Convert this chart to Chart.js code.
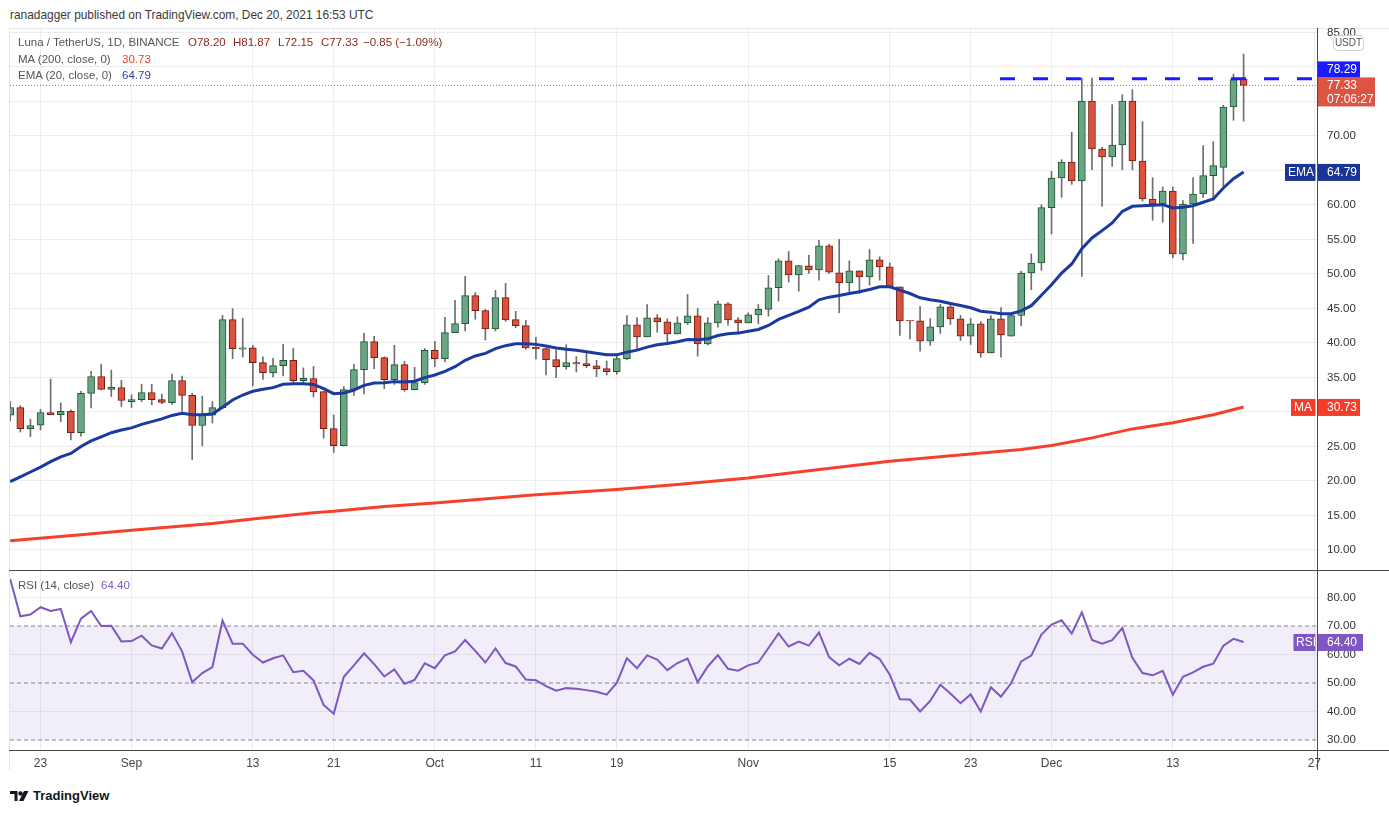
<!DOCTYPE html>
<html><head><meta charset="utf-8">
<script src="https://cdn.jsdelivr.net/npm/chart.js@4.4.0/dist/chart.umd.min.js"></script>
<style>
body{margin:0;width:1389px;height:813px;background:#fff;position:relative;overflow:hidden;font-family:"Liberation Sans",Arial,sans-serif;}
.abs{position:absolute;white-space:pre;line-height:14px;}
.box{position:absolute;}
</style></head><body>
<div class="abs" style="left:10px;top:8px;font-size:11.9px;color:#3a3a3a">ranadagger published on TradingView.com, Dec 20, 2021 16:53 UTC</div>
<div class="box" style="left:9px;top:28px;width:1380px;height:1px;background:#e3e5ec"></div>
<div class="box" style="left:9px;top:28px;width:1px;height:742px;background:#e3e5ec"></div>
<div style="position:absolute;left:0;top:28px;width:1389px;height:542px"><canvas id="price"></canvas></div>
<div style="position:absolute;left:0;top:571px;width:1389px;height:200px"><canvas id="rsi"></canvas></div>
<div class="box" style="left:9px;top:570px;width:1380px;height:1px;background:#4a4a4a"></div>
<div class="box" style="left:9px;top:750px;width:1380px;height:1px;background:#4a4a4a"></div>
<div class="box" style="left:1317px;top:28px;width:1px;height:742px;background:#4a4a4a"></div>

<div class="abs" style="left:18px;top:35px;font-size:11.5px;color:#555">Luna / TetherUS, 1D, BINANCE</div>
<div class="abs" id="hO" style="left:188px;top:35px;font-size:11.5px;color:#8a2a1e"></div>
<div class="abs" id="hH" style="left:233px;top:35px;font-size:11.5px;color:#8a2a1e"></div>
<div class="abs" id="hL" style="left:278px;top:35px;font-size:11.5px;color:#8a2a1e"></div>
<div class="abs" id="hC" style="left:321px;top:35px;font-size:11.5px;color:#8a2a1e"></div>
<div class="abs" id="hChg" style="left:363px;top:35px;font-size:11.5px;color:#8a2a1e"></div>
<div class="abs" style="left:18px;top:52px;font-size:11.5px;color:#555">MA (200, close, 0)</div>
<div class="abs" id="hMA" style="left:122px;top:52px;font-size:11.5px;color:#f23a2b"></div>
<div class="abs" style="left:18px;top:68px;font-size:11.5px;color:#555">EMA (20, close, 0)</div>
<div class="abs" id="hEMA" style="left:122px;top:68px;font-size:11.5px;color:#2a3fa0"></div>
<div class="abs" style="left:18px;top:578px;font-size:11.5px;color:#555">RSI (14, close)</div>
<div class="abs" id="hRSI" style="left:101px;top:578px;font-size:11.5px;color:#7e57c2"></div>

<svg style="position:absolute;left:10px;top:790px" width="20" height="12" viewBox="0 0 20 12">
<path d="M0 1h7.5v10H4.5V4H0z" fill="#131722"/><circle cx="10.5" cy="3.5" r="2.2" fill="#131722"/><path d="M14 1h4.5L13.5 11H9z" fill="#131722"/></svg>
<div class="abs" style="left:33px;top:789px;font-size:13px;font-weight:bold;color:#131722">TradingView</div>

<script>
// ---- data (day index 0 = Aug 20, 2021) ----
const open = [29.54,30.65,27.6,28.1,29.9,29.6,30.1,27.0,32.7,35.14,33.26,33.55,31.5,31.8,32.83,31.8,31.35,34.57,32.4,28.04,29.54,
30.63,43.38,39.1,39.3,37.15,35.65,36.7,37.49,34.54,34.83,32.95,27.58,25.12,33.24,36.14,40.19,37.87,34.69,36.86,33.24,
34.25,38.94,37.73,41.5,42.8,46.86,44.69,42.03,46.57,43.38,42.51,39.37,39.18,37.58,36.57,37.15,37.0,36.7,36.28,35.85,
37.71,42.63,40.89,43.65,43.07,41.33,42.92,43.94,39.88,42.92,45.68,43.36,42.92,44.08,44.86,48.0,51.91,49.88,51.2,50.6,
54.08,50.17,48.72,50.46,49.59,52.05,51.04,48.14,43.3,43.21,40.27,42.34,45.24,43.5,41.0,42.78,38.57,43.5,41.0,43.99,
50.14,51.59,59.61,63.91,66.23,63.48,75.07,68.12,66.96,68.7,75.07,66.38,60.87,60.14,62.03,52.9,60.14,61.59,64.25,65.46,74.2,78.2];
const high = [31.5,30.9,28.96,30.4,34.76,31.3,30.3,33.0,35.9,36.93,36.06,34.6,32.5,34.03,34.0,32.6,35.5,35.2,32.7,32.3,31.5,
44.0,44.98,43.57,39.66,38.0,37.78,39.81,39.23,36.4,36.6,33.0,29.57,33.67,36.91,41.4,40.97,38.0,39.66,37.34,36.47,
39.2,40.24,43.72,46.18,49.66,47.3,44.88,47.63,48.65,44.59,43.29,40.82,39.27,38.99,39.76,38.02,38.5,37.49,37.39,38.36,
43.99,43.7,45.58,44.13,43.5,43.79,47.03,45.0,43.65,46.06,45.87,43.7,44.37,45.58,49.78,52.2,53.26,51.23,52.7,54.86,
54.32,55.0,51.91,50.46,53.55,52.49,51.6,48.14,43.3,45.29,43.55,45.58,45.48,43.99,43.55,43.12,43.99,45.14,44.23,50.4,
52.9,60.05,64.88,66.57,70.53,78.41,78.41,68.36,74.54,75.99,76.71,72.08,63.96,62.61,62.61,60.63,63.96,68.6,69.18,74.44,78.99,81.87];
const low = [28.7,27.1,26.4,27.4,29.6,28.6,25.97,26.5,30.6,33.2,32.25,30.8,30.65,31.5,31.05,31.2,31.1,30.12,23.07,25.1,28.4,
30.5,37.73,37.97,33.77,34.73,35.07,35.22,34.0,34.25,32.17,26.23,24.11,25.1,32.4,32.61,36.28,33.38,34.0,33.0,33.2,
34.0,36.57,37.25,41.5,41.74,43.43,40.43,41.74,43.14,42.22,39.08,37.68,35.36,34.98,36.18,35.8,36.4,35.12,35.36,35.46,
37.6,39.06,40.89,41.57,40.0,41.3,42.68,38.1,39.7,42.29,42.58,41.33,42.9,42.78,43.89,46.06,48.82,47.5,50.1,49.1,
50.07,44.37,47.37,47.13,48.38,49.1,48.1,41.09,40.6,38.82,39.64,41.38,42.68,40.36,39.78,37.95,38.57,37.95,41.0,42.5,
47.73,50.53,55.8,61.11,62.99,49.66,65.12,59.81,65.6,65.12,65.12,60.58,57.78,57.49,52.32,52.03,54.44,61.1,61.0,62.46,72.27,72.15];
const close = [30.65,27.6,28.04,29.93,29.6,30.1,27.0,32.7,35.14,33.26,33.6,31.67,31.8,32.83,31.8,31.4,34.57,32.4,28.04,29.54,30.63,
43.38,39.18,39.3,37.15,35.7,36.71,37.49,34.54,34.88,32.9,27.58,25.12,33.24,36.14,40.19,37.87,34.69,36.86,33.24,34.25,
38.94,37.73,41.5,42.8,46.86,44.69,42.03,46.57,43.33,42.51,39.28,39.18,37.58,36.57,37.15,36.96,36.7,36.23,35.85,37.73,
42.63,40.89,43.65,43.07,41.33,42.92,43.94,39.88,42.92,45.68,43.36,42.92,44.08,44.86,48.0,51.91,49.88,51.23,50.6,54.08,
50.27,48.72,50.46,49.59,52.05,51.04,48.14,43.21,43.2,40.27,42.34,45.24,43.5,41.0,42.78,38.57,43.5,41.18,43.99,50.14,
51.59,59.61,63.91,66.23,63.48,75.07,68.12,66.96,68.7,75.07,66.38,60.87,60.14,62.03,52.9,60.14,61.59,64.25,65.7,74.2,78.18,77.33];
const ema20 = [19.9,20.6,21.3,22.0,22.8,23.5,24.0,25.0,25.8,26.4,27.0,27.4,27.7,28.2,28.6,29.0,29.5,29.8,29.6,29.6,29.7,30.7,
31.74,32.46,33.0,33.29,33.53,34.01,34.1,34.1,34.0,33.38,32.66,32.75,33.19,33.86,34.2,34.25,34.4,34.35,34.45,
34.98,35.36,35.89,36.57,37.49,38.12,38.5,39.18,39.61,39.9,39.9,39.8,39.57,39.28,39.08,38.94,38.74,38.5,38.3,38.28,
38.67,38.96,39.4,39.73,39.93,40.17,40.51,40.46,40.6,41.09,41.33,41.43,41.71,41.96,42.54,43.41,43.99,44.57,45.2,46.25,
46.64,46.88,47.17,47.42,47.75,48.14,48.14,47.66,47.17,46.55,46.26,46.06,45.72,45.43,45.1,44.61,44.47,44.23,44.23,44.65,
45.41,46.91,48.45,50.14,51.45,53.67,55.22,56.28,57.39,59.08,59.81,59.9,59.95,60.05,59.57,59.66,59.9,60.39,60.87,62.46,63.82,64.79];
const ma200Day = [0,7,12,20,24,30,32,37,42,52,60,66,73,79,87,95,100,103,107,111,115,119,122];
const ma200Val = [11.35,12.2,12.85,13.85,14.5,15.4,15.6,16.3,16.8,18.0,18.75,19.5,20.45,21.5,22.85,23.9,24.55,25.15,26.25,27.55,28.45,29.6,30.73];
const rsi14 = [86.5,73.4,74.0,76.6,75.3,76.0,64.3,72.6,75.3,70.0,70.1,64.6,64.7,66.6,63.2,62.1,67.5,61.1,50.3,53.5,55.6,
71.9,63.8,63.8,59.9,57.2,58.7,59.7,53.8,54.3,50.9,42.3,39.2,52.2,56.2,60.4,56.6,52.3,54.8,49.7,51.1,
56.9,55.2,59.7,61.1,65.1,61.3,57.2,62.1,57.0,55.8,51.2,51.0,48.9,47.3,48.2,48.0,47.5,46.9,45.9,50.0,58.7,55.2,
59.7,58.2,54.5,57.0,58.6,50.3,55.8,59.8,55.0,54.3,56.2,57.2,62.3,67.4,62.8,64.5,63.1,67.7,59.1,56.2,
58.5,56.7,60.6,58.4,52.9,44.3,44.2,40.0,43.7,49.4,46.3,42.9,46.0,40.0,48.5,45.2,49.9,57.6,59.6,67.0,
70.5,72.0,67.3,74.8,65.1,63.8,65.0,69.3,58.8,53.5,52.7,54.3,45.9,52.2,53.7,55.7,56.8,63.1,65.5,64.4];
const resistanceLevel = [78.29];
const resistanceFromDay = [97.9];
const dateTickDay = [3,12,24,32,42,52,60,73,87,95,103,115,129];
const dateTickLabel = ['23','Sep','13','21','Oct','11','19','Nov','15','23','Dec','13','27'];
const priceTicks = [10,15,20,25,30,35,40,45,50,55,60,65,70,75,80,85];
const rsiTicks = [30,40,50,60,70,80];
const rsiBands = [30,50,70];
const countdown = '07:06:27';

// ---- derived header values ----
const n = close.length, L = n-1;
const chg = close[L]-close[L-1];
const fmt = v => v.toFixed(2);
const neg = v => (v<0?'\u2212':'+')+Math.abs(v).toFixed(2);
document.getElementById('hO').textContent='O'+fmt(open[L]);
document.getElementById('hH').textContent='H'+fmt(high[L]);
document.getElementById('hL').textContent='L'+fmt(low[L]);
document.getElementById('hC').textContent='C'+fmt(close[L]);
document.getElementById('hChg').textContent=neg(chg)+' ('+neg(chg/close[L-1]*100)+'%)';
document.getElementById('hMA').textContent=fmt(ma200Val[ma200Val.length-1]);
document.getElementById('hEMA').textContent=fmt(ema20[L]);
document.getElementById('hRSI').textContent=fmt(rsi14[L]);

const FONT = '"Liberation Sans", Arial, sans-serif';
const X_MIN = -0.02, X_MAX = 129.26;
const GRID = '#ececf0';
const idx = close.map((_,i)=>i);
const up = i => close[i] >= open[i];

function xScale(showLabels){
  return {
    type:'linear', min:X_MIN, max:X_MAX, offset:false,
    grid:{color:GRID, drawTicks:false, offset:false},
    border:{display:false},
    ticks:{display:showLabels, autoSkip:false, maxRotation:0, padding:6, color:'#444',
      font:{family:FONT,size:12}, callback:(v,i)=>dateTickLabel[i]},
    afterBuildTicks:s=>{s.ticks=dateTickDay.map(v=>({value:v}));},
    afterFit:s=>{s.height=showLabels?21:0; s.paddingLeft=0; s.paddingRight=0;}
  };
}
function yFit(s){ s.width=72; s.paddingTop=0; s.paddingBottom=0; }

const priceTags = {
  id:'priceTags',
  afterDraw(chart){
    const {ctx, chartArea, scales:{y}} = chart;
    const ax = chartArea.right + 1;
    ctx.save();
    ctx.font = '12px '+FONT;
    ctx.textBaseline='middle';
    const lp = y.getPixelForValue(close[L]);
    const lpTop = lp-8;
    ctx.fillStyle='#dc5443'; ctx.fillRect(ax, lpTop, 57, 29);
    ctx.fillStyle='#fff'; ctx.fillText(fmt(close[L]), 1327, lp+0.5); ctx.fillText(countdown, 1327, lp+14.5);
    ctx.fillStyle='#1a1aff'; ctx.fillRect(ax, lpTop-16, 42, 16);
    ctx.fillStyle='#fff'; ctx.fillText(fmt(resistanceLevel[0]), 1327, lpTop-7.5);
    const ep = y.getPixelForValue(ema20[L]);
    ctx.fillStyle='#1b3596'; ctx.fillRect(1285, ep-8, 30.5, 17); ctx.fillRect(ax, ep-8, 42, 17);
    ctx.fillStyle='#fff'; ctx.fillText('EMA', 1288, ep+0.5); ctx.fillText(fmt(ema20[L]), 1327, ep+0.5);
    const mv = ma200Val[ma200Val.length-1];
    const mp = y.getPixelForValue(mv);
    ctx.fillStyle='#f23d2b'; ctx.fillRect(1291, mp-8, 24.5, 17); ctx.fillRect(ax, mp-8, 42, 17);
    ctx.fillStyle='#fff'; ctx.fillText('MA', 1294, mp+0.5); ctx.fillText(fmt(mv), 1327, mp+0.5);
    ctx.fillStyle='#fff'; ctx.strokeStyle='#c9ccd4'; ctx.lineWidth=1;
    ctx.beginPath(); ctx.roundRect(1333.5, 7.5, 30, 15, 4); ctx.fill(); ctx.stroke();
    ctx.fillStyle='#555'; ctx.font='10px '+FONT; ctx.textAlign='center'; ctx.fillText('USDT', 1348.5, 15.5);
    ctx.restore();
  }
};

new Chart(document.getElementById('price'), {
  type:'bar',
  data:{datasets:[
    {type:'line', data:ema20.map((v,i)=>({x:i,y:v})), borderColor:'#1b3a9f', borderWidth:3, pointRadius:0, order:0},
    {type:'line', data:ma200Day.map((d,k)=>({x:d,y:ma200Val[k]})), borderColor:'#f5402c', borderWidth:3, pointRadius:0, order:0},
    {type:'line', data:[{x:resistanceFromDay[0],y:resistanceLevel[0]},{x:X_MAX,y:resistanceLevel[0]}], borderColor:'#1a1aff', borderWidth:3, borderDash:[15,18], pointRadius:0, order:0},
    {type:'line', data:[{x:X_MIN,y:close[L]},{x:X_MAX,y:close[L]}], borderColor:'#e0574a', borderWidth:1, borderDash:[1,2], pointRadius:0, order:5},
    {type:'bar', data:idx.map(i=>({x:i,y:[open[i],close[i]]})),
      backgroundColor:idx.map(i=>up(i)?'#6aa584':'#d9533f'), borderColor:idx.map(i=>up(i)?'#1f5634':'#741c12'),
      borderWidth:1, borderSkipped:false, barThickness:7, grouped:false, order:2},
    {type:'bar', data:idx.map(i=>({x:i,y:[low[i],high[i]]})), backgroundColor:'#6e6e70', barThickness:1, grouped:false, order:3}
  ]},
  options:{
    responsive:true, maintainAspectRatio:false, animation:false,
    layout:{padding:{left:10,right:0,top:0,bottom:0}},
    plugins:{legend:{display:false}, tooltip:{enabled:false}},
    scales:{
      x:xScale(false),
      y:{position:'right', min:7.1, max:85.65,
        grid:{color:GRID, drawTicks:false}, border:{display:false},
        ticks:{padding:10, color:'#333', autoSkip:false, font:{family:FONT,size:11.5}, callback:v=>v.toFixed(2)},
        afterBuildTicks:s=>{s.ticks=priceTicks.map(v=>({value:v}));},
        afterFit:yFit}
    }
  },
  plugins:[priceTags]
});

const rsiTags = {
  id:'rsiTags',
  afterDraw(chart){
    const {ctx, chartArea, scales:{y}} = chart;
    const p = y.getPixelForValue(rsi14[L]);
    ctx.save();
    ctx.font='12px '+FONT; ctx.textBaseline='middle';
    ctx.fillStyle='#7e57c2'; ctx.fillRect(1293.5, p-8, 22, 17); ctx.fillRect(chartArea.right+1, p-8, 45, 17);
    ctx.fillStyle='#fff'; ctx.fillText('RSI', 1296, p+0.5); ctx.fillText(fmt(rsi14[L]), 1327, p+0.5);
    ctx.restore();
  }
};

const bandLine = v => ({type:'line', data:[{x:X_MIN,y:v},{x:X_MAX,y:v}], borderColor:'#858892', borderWidth:1, borderDash:[4,3], pointRadius:0, order:2});
const bandTop = bandLine(rsiBands[2]);
bandTop.fill = {value: rsiBands[0]};
bandTop.backgroundColor = 'rgba(126,87,194,0.1)';

new Chart(document.getElementById('rsi'), {
  type:'line',
  data:{datasets:[
    {data:rsi14.map((v,i)=>({x:i,y:v})), borderColor:'#7e57c2', borderWidth:2, pointRadius:0, order:0},
    bandTop, bandLine(rsiBands[1]), bandLine(rsiBands[0])
  ]},
  options:{
    responsive:true, maintainAspectRatio:false, animation:false,
    layout:{padding:{left:10,right:0,top:0,bottom:0}},
    plugins:{legend:{display:false}, tooltip:{enabled:false}},
    scales:{
      x:xScale(true),
      y:{position:'right', min:26.49, max:89.3,
        grid:{color:c=>rsiBands.includes(c.tick.value)?'rgba(0,0,0,0)':GRID, drawTicks:false}, border:{display:false},
        ticks:{padding:10, color:'#333', autoSkip:false, font:{family:FONT,size:11.5}, callback:v=>v.toFixed(2)},
        afterBuildTicks:s=>{s.ticks=rsiTicks.map(v=>({value:v}));},
        afterFit:yFit}
    }
  },
  plugins:[rsiTags]
});
</script>
</body></html>
